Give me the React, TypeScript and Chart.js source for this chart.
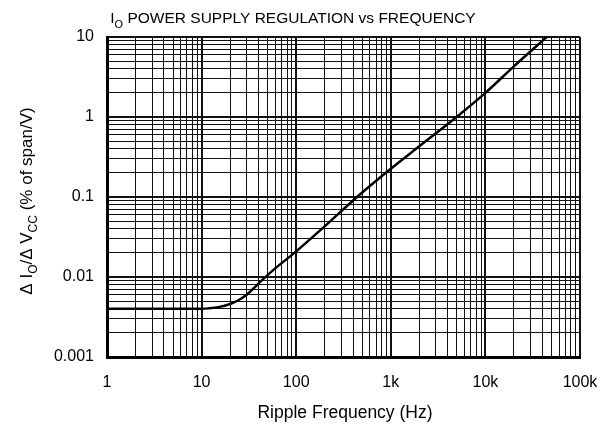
import React, { useEffect, useRef } from "react";
import { Chart, registerables } from "chart.js";

Chart.register(...registerables);

// Data (Hz, % of span/V)
const freq = [1, 2, 5, 10, 12, 15, 20, 25, 30, 35, 43, 60, 100, 200, 440, 1000, 2000, 4960, 10000, 20000, 44400];
const regulation = [0.004, 0.004, 0.004, 0.004, 0.00406, 0.0042, 0.0046, 0.0052, 0.006, 0.0071, 0.009, 0.0128, 0.0209, 0.043, 0.1, 0.225, 0.43, 1, 2.0, 4.3, 10];

const xDecades = [1, 10, 100, 1000, 10000, 100000];
const xDecadeLabels = ["1", "10", "100", "1k", "10k", "100k"];
const yDecades = [0.001, 0.01, 0.1, 1, 10];
const yDecadeLabels = ["0.001", "0.01", "0.1", "1", "10"];
const minorMultipliers = [2, 3, 4, 5, 6, 7, 8, 9];

const FONT = "'Liberation Sans', Arial, sans-serif";

function gridValues(decades: number[]) {
  const out: number[] = [];
  decades.forEach((d, i) => {
    out.push(d);
    if (i < decades.length - 1) minorMultipliers.forEach((m) => out.push(d * m));
  });
  return out;
}

function isDecade(v: number) {
  const l = Math.log10(v);
  return Math.abs(l - Math.round(l)) < 1e-9;
}

function labelFor(v: number, decades: number[], labels: string[]) {
  for (let i = 0; i < decades.length; i++) {
    if (Math.abs(decades[i] - v) / decades[i] < 1e-9) return labels[i];
  }
  return "";
}

type Seg = [string, boolean];

function drawRich(ctx: CanvasRenderingContext2D, segs: Seg[], x: number, y: number, size: number) {
  const subSize = Math.round(size * 0.72);
  let total = 0;
  segs.forEach(([t, sub]) => {
    ctx.font = `${sub ? subSize : size}px ${FONT}`;
    total += ctx.measureText(t).width;
  });
  let cx = x - total / 2;
  segs.forEach(([t, sub]) => {
    ctx.font = `${sub ? subSize : size}px ${FONT}`;
    ctx.fillText(t, cx, sub ? y + size * 0.3 : y);
    cx += ctx.measureText(t).width;
  });
}

const textPlugin = {
  id: "richText",
  afterDraw(chart: any) {
    const ctx: CanvasRenderingContext2D = chart.ctx;
    ctx.save();
    ctx.fillStyle = "#000";
    ctx.textBaseline = "alphabetic";
    ctx.textAlign = "left";
    drawRich(ctx, [["I", false], ["O", true], [" POWER SUPPLY REGULATION vs FREQUENCY", false]], 293, 23, 15.5);
    drawRich(ctx, [["Ripple Frequency (Hz)", false]], 345, 418, 17.5);
    ctx.translate(32, 201);
    ctx.rotate(-Math.PI / 2);
    drawRich(ctx, [["\u0394 I", false], ["O", true], ["/\u0394 V", false], ["CC", true], [" (% of span/V)", false]], 0, 0, 17);
    ctx.restore();
  },
};

export default function App() {
  const ref = useRef<HTMLCanvasElement | null>(null);
  useEffect(() => {
    if (!ref.current) return;
    const xGrid = gridValues(xDecades);
    const yGrid = gridValues(yDecades);
    const chart = new Chart(ref.current, {
      type: "line",
      data: {
        datasets: [
          {
            data: freq.map((f, i) => ({ x: f, y: regulation[i] })),
            borderColor: "#000",
            borderWidth: 2.5,
            pointRadius: 0,
            cubicInterpolationMode: "monotone",
            fill: false,
          },
        ],
      },
      options: {
        animation: false,
        responsive: false,
        events: [],
        layout: { padding: { top: 37, right: 28, left: 0, bottom: 0 } },
        plugins: { legend: { display: false }, title: { display: false }, tooltip: { enabled: false } },
        scales: {
          x: {
            type: "logarithmic",
            min: 1,
            max: 100000,
            afterBuildTicks: (s: any) => {
              s.ticks = xGrid.map((v) => ({ value: v }));
            },
            afterFit: (s: any) => {
              s.height = 69;
              s.paddingLeft = 0;
              s.paddingRight = 0;
            },
            ticks: {
              autoSkip: false,
              maxRotation: 0,
              padding: 16,
              color: "#000",
              font: { family: FONT, size: 16 },
              callback: (v: any) => labelFor(Number(v), xDecades, xDecadeLabels),
            },
            grid: {
              color: "#111",
              lineWidth: (c: any) => (c.tick && isDecade(c.tick.value) ? 2 : 1),
              drawTicks: false,
            },
            border: { display: true, color: "#000", width: 3 },
          },
          y: {
            type: "logarithmic",
            min: 0.001,
            max: 10,
            afterBuildTicks: (s: any) => {
              s.ticks = yGrid.map((v) => ({ value: v }));
            },
            afterFit: (s: any) => {
              s.width = 107;
              s.paddingTop = 0;
              s.paddingBottom = 0;
            },
            ticks: {
              autoSkip: false,
              padding: 13,
              color: "#000",
              font: { family: FONT, size: 16 },
              callback: (v: any) => labelFor(Number(v), yDecades, yDecadeLabels),
            },
            grid: {
              color: "#111",
              lineWidth: (c: any) => (c.tick && isDecade(c.tick.value) ? 2 : 1),
              drawTicks: false,
            },
            border: { display: true, color: "#000", width: 3 },
          },
        },
      },
      plugins: [textPlugin],
    } as any);
    return () => chart.destroy();
  }, []);
  return (
    <div style={{ position: "absolute", left: 0, top: 0, width: 608, height: 426, background: "#fff" }}>
      <canvas ref={ref} width={608} height={426} style={{ display: "block" }} />
    </div>
  );
}
